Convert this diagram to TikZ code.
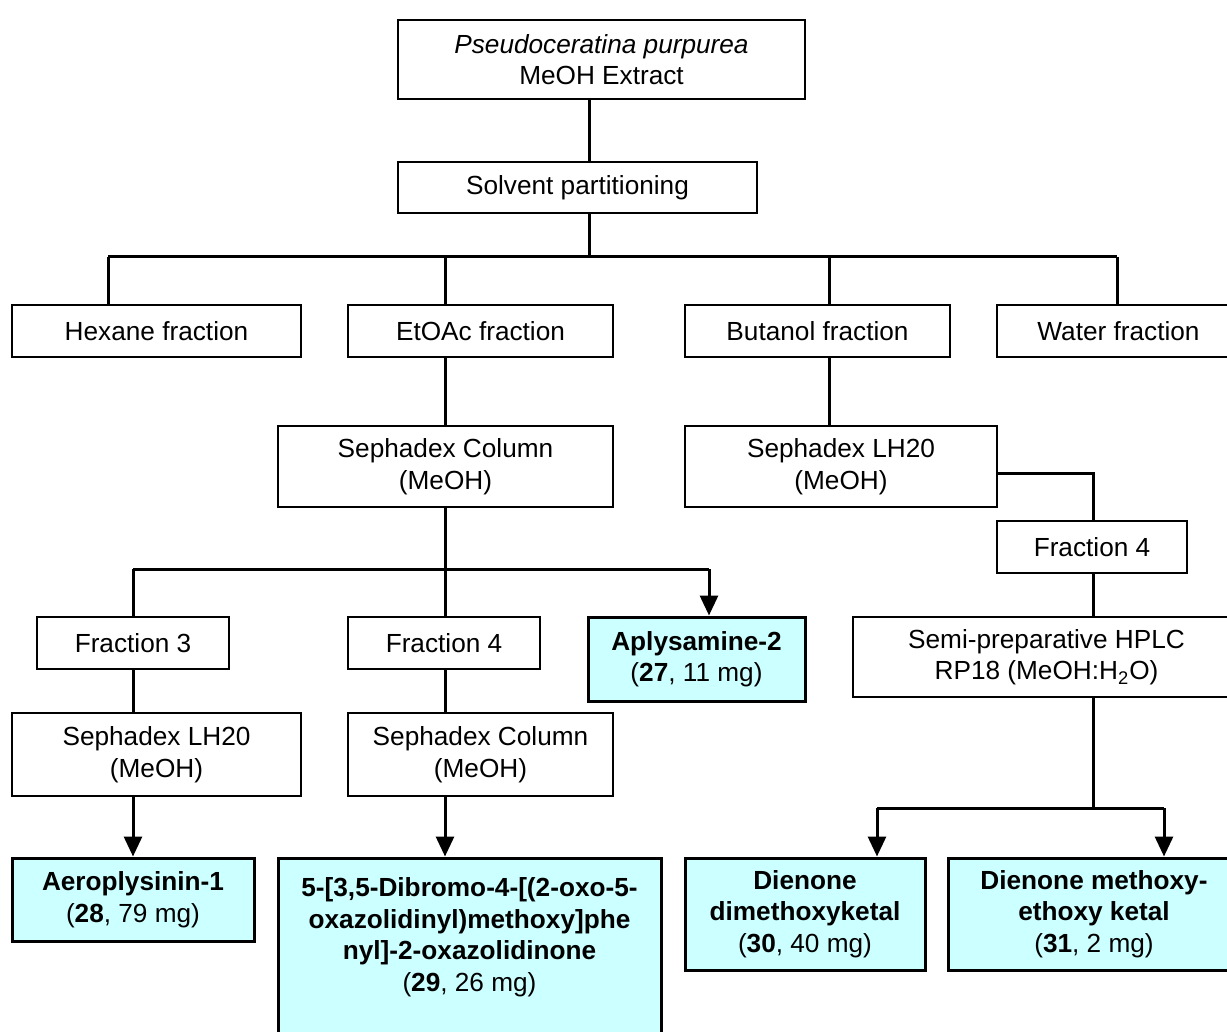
\documentclass[tikz,border=0pt]{standalone}
\usepackage{fontspec}
\setmainfont{Liberation Sans}
\usepackage{tikz}
\usetikzlibrary{fit,arrows.meta}
\usepackage{xcolor}
\definecolor{prodcyan}{HTML}{CCFFFF}

\begin{document}
\begin{tikzpicture}[x=0.5pt,y=-0.5pt,
	every node/.style={font=\fontsize{13.1pt}{15.75pt}\selectfont},
	stepbox/.style 2 args={
		draw,
		line width=0.75pt,
		inner sep=0pt,
		fit={#1},
		label={[align=center]center:{#2}}
	},
	prodbox/.style 2 args={
		draw,
		line width=1.5pt,
		fill=prodcyan,
		inner sep=0pt,
		fit={#1},
		label={[align=center]center:{#2}}
	},
	link/.style={line width=1.5pt},
	arr/.style={line width=1.5pt,-{Triangle[width=9pt,length=10pt]}}]

	\useasboundingbox (0,0) rectangle (1227,1032);
	\clip (0,0) rectangle (1227,1032);

	% extract and partitioning
	\node[stepbox={(398,20) (805,99)}{\textit{Pseudoceratina purpurea}\\MeOH Extract}] (extract) {};
	\node[stepbox={(398,162) (757,213)}{Solvent partitioning}] (part) {};

	% fractions
	\node[stepbox={(12,305) (301,357)}{Hexane fraction}] (hex) {};
	\node[stepbox={(348,305) (613,357)}{EtOAc fraction}] (etoac) {};
	\node[stepbox={(685,305) (950,357)}{Butanol fraction}] (buoh) {};
	\node[stepbox={(997,305) (1240,357)}{Water fraction}] (water) {};

	% EtOAc branch
	\node[stepbox={(278,426) (613,507)}{Sephadex Column\\(MeOH)}] (sephA) {};
	\node[stepbox={(37,617) (229,669)}{Fraction 3}] (fr3) {};
	\node[stepbox={(348,617) (540,669)}{Fraction 4}] (fr4) {};
	\node[prodbox={(588,617) (805,701)}{\textbf{Aplysamine-2}\\(\textbf{27}, 11 mg)}] (aply) {};
	\node[stepbox={(12,713) (301,796)}{Sephadex LH20\\(MeOH)}] (lh20B) {};
	\node[stepbox={(348,713) (613,796)}{Sephadex Column\\(MeOH)}] (sephB) {};
	\node[prodbox={(12,858) (254,941)}{\textbf{Aeroplysinin-1}\\(\textbf{28}, 79 mg)}] (aero) {};
	\node[draw,line width=1.5pt,fill=prodcyan,inner sep=0pt,fit={(278,858) (661,1050)},
		label={[anchor=north,align=center,label distance=-7pt]north:{\textbf{5-[3,5-Dibromo-4-[(2-oxo-5-}\\\textbf{oxazolidinyl)methoxy]phe}\\\textbf{nyl]-2-oxazolidinone}\\(\textbf{29}, 26 mg)}}] (oxaz) {};

	% Butanol branch
	\node[stepbox={(685,426) (997,507)}{Sephadex LH20\\(MeOH)}] (lh20A) {};
	\node[stepbox={(997,521) (1187,573)}{Fraction 4}] (frR4) {};
	\node[stepbox={(853,617) (1240,697)}{Semi-preparative HPLC\\RP18 (MeOH:H\textsubscript{2}O)}] (hplc) {};
	\node[prodbox={(685,858) (925,970)}{\textbf{Dienone}\\\textbf{dimethoxyketal}\\(\textbf{30}, 40 mg)}] (dimeth) {};
	\node[prodbox={(948,858) (1240,970)}{\textbf{Dienone methoxy-}\\\textbf{ethoxy ketal}\\(\textbf{31}, 2 mg)}] (ethoxy) {};

	% junction points
	\coordinate (busA) at (589,257);
	\coordinate (busL) at (108,257);
	\coordinate (busE) at (445,257);
	\coordinate (busB) at (829,257);
	\coordinate (busR) at (1117,257);
	\coordinate (busC) at (445,569);
	\coordinate (busC3) at (133,569);
	\coordinate (busCA) at (709,569);
	\coordinate (elbow) at (1093,473);
	\coordinate (busD) at (1093,808);
	\coordinate (busDL) at (877,808);
	\coordinate (busDR) at (1164,808);

	\draw[link] (extract.south -| busA) -- (part.north -| busA);
	\draw[link] (part.south -| busA) -- (busA);
	\draw[link] (busL) -- (busR);
	\draw[link] (busL) -- (hex.north -| busL);
	\draw[link] (busE) -- (etoac.north -| busE);
	\draw[link] (busB) -- (buoh.north -| busB);
	\draw[link] (busR) -- (water.north -| busR);

	\draw[link] (etoac.south -| busE) -- (sephA.north -| busE);
	\draw[link] (sephA.south -| busC) -- (busC);
	\draw[link] (busC3) -- (busCA);
	\draw[link] (busC3) -- (fr3.north -| busC3);
	\draw[link] (busC) -- (fr4.north -| busC);
	\draw[arr] (busCA) -- (aply.north -| busCA);
	\draw[link] (fr3.south -| busC3) -- (lh20B.north -| busC3);
	\draw[link] (fr4.south -| busC) -- (sephB.north -| busC);
	\draw[arr] (lh20B.south -| busC3) -- (aero.north -| busC3);
	\draw[arr] (sephB.south -| busC) -- (oxaz.north -| busC);

	\draw[link] (buoh.south -| busB) -- (lh20A.north -| busB);
	\draw[link] (lh20A.east |- elbow) -- (elbow) -- (frR4.north -| elbow);
	\draw[link] (frR4.south -| elbow) -- (hplc.north -| elbow);
	\draw[link] (hplc.south -| busD) -- (busD);
	\draw[link] (busDL) -- (busDR);
	\draw[arr] (busDL) -- (dimeth.north -| busDL);
	\draw[arr] (busDR) -- (ethoxy.north -| busDR);
\end{tikzpicture}
\end{document}
